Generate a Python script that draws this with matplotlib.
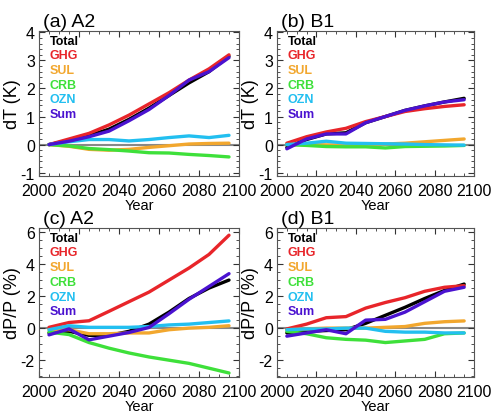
import numpy as np
import matplotlib
matplotlib.use("Agg")
import matplotlib.pyplot as plt
from matplotlib.ticker import MultipleLocator

plt.rcParams['font.family'] = ['Liberation Sans', 'DejaVu Sans']
plt.rcParams['axes.unicode_minus'] = False

years = [2005, 2015, 2025, 2035, 2045, 2055, 2065, 2075, 2085, 2095]
series_names = ["Total", "GHG", "SUL", "CRB", "OZN", "Sum"]
series_colors = ["#000000", "#e8252a", "#f2a72e", "#3ee03a", "#22bff0", "#4a12d0"]

# (a) A2 dT
a_total = [0.0, 0.15, 0.32, 0.55, 0.90, 1.30, 1.75, 2.20, 2.60, 3.15]
a_ghg   = [0.0, 0.20, 0.40, 0.70, 1.05, 1.45, 1.85, 2.30, 2.70, 3.20]
a_sul   = [0.0, -0.06, -0.17, -0.20, -0.17, -0.10, -0.04, 0.02, 0.04, 0.05]
a_crb   = [0.0, -0.05, -0.14, -0.18, -0.23, -0.29, -0.30, -0.35, -0.39, -0.44]
a_ozn   = [0.0, 0.10, 0.18, 0.18, 0.13, 0.18, 0.25, 0.31, 0.25, 0.33]
a_sum   = [0.0, 0.12, 0.28, 0.48, 0.85, 1.25, 1.75, 2.30, 2.60, 3.10]

# (b) B1 dT
b_total = [-0.10, 0.18, 0.38, 0.42, 0.78, 1.00, 1.22, 1.38, 1.52, 1.65]
b_ghg   = [0.05, 0.28, 0.45, 0.58, 0.82, 1.00, 1.18, 1.28, 1.36, 1.42]
b_sul   = [0.0, 0.0, -0.01, -0.02, -0.01, 0.02, 0.05, 0.10, 0.15, 0.20]
b_crb   = [0.0, -0.03, -0.07, -0.08, -0.08, -0.12, -0.07, -0.06, -0.05, -0.03]
b_ozn   = [0.0, 0.05, 0.12, 0.05, 0.04, 0.03, 0.02, 0.00, -0.01, -0.02]
b_sum   = [-0.15, 0.20, 0.38, 0.38, 0.78, 1.00, 1.22, 1.38, 1.52, 1.60]

# (c) A2 dP/P
c_total = [-0.30, -0.20, -0.45, -0.45, -0.20, 0.25, 1.00, 1.85, 2.50, 3.00]
c_ghg   = [0.05, 0.35, 0.46, 1.05, 1.65, 2.25, 3.00, 3.75, 4.60, 5.80]
c_sul   = [-0.10, -0.10, -0.35, -0.35, -0.30, -0.30, -0.10, 0.00, 0.05, 0.15]
c_crb   = [-0.25, -0.40, -0.90, -1.25, -1.55, -1.80, -2.00, -2.20, -2.50, -2.80]
c_ozn   = [-0.10, 0.15, 0.05, 0.05, 0.05, 0.10, 0.20, 0.25, 0.35, 0.45]
c_sum   = [-0.42, -0.05, -0.73, -0.50, -0.27, 0.04, 0.90, 1.80, 2.60, 3.40]

# (d) B1 dP/P
d_total = [-0.30, -0.20, -0.15, -0.10, 0.30, 0.80, 1.30, 1.85, 2.35, 2.75]
d_ghg   = [-0.05, 0.25, 0.65, 0.72, 1.25, 1.60, 1.90, 2.30, 2.55, 2.65]
d_sul   = [-0.10, -0.05, 0.00, 0.00, 0.00, 0.05, 0.10, 0.30, 0.40, 0.45]
d_crb   = [-0.20, -0.35, -0.60, -0.70, -0.75, -0.90, -0.80, -0.70, -0.35, -0.30]
d_ozn   = [-0.10, -0.05, -0.05, 0.00, 0.00, -0.20, -0.25, -0.25, -0.30, -0.30]
d_sum   = [-0.50, -0.30, -0.10, -0.35, 0.50, 0.55, 1.00, 1.65, 2.30, 2.55]

panels = [
    ("(a) A2", "dT (K)", [a_total, a_ghg, a_sul, a_crb, a_ozn, a_sum], (-1.12, 4.05), [-1, 0, 1, 2, 3, 4], 0.2),
    ("(b) B1", "dT (K)", [b_total, b_ghg, b_sul, b_crb, b_ozn, b_sum], (-1.12, 4.05), [-1, 0, 1, 2, 3, 4], 0.2),
    ("(c) A2", "dP/P (%)", [c_total, c_ghg, c_sul, c_crb, c_ozn, c_sum], (-3.05, 6.25), [-2, 0, 2, 4, 6], 0.5),
    ("(d) B1", "dP/P (%)", [d_total, d_ghg, d_sul, d_crb, d_ozn, d_sum], (-3.05, 6.25), [-2, 0, 2, 4, 6], 0.5),
]

fig = plt.figure(figsize=(4.91, 4.14), dpi=100)
W, H = 491, 414
boxes = [
    (39, 32, 200, 145),
    (277, 32, 197, 145),
    (39, 229, 200, 149),
    (277, 229, 197, 149),
]

for (title, ylab, data, ylim, yticks, yminor), (x0, y0, w, h) in zip(panels, boxes):
    ax = fig.add_axes([x0 / W, 1 - (y0 + h) / H, w / W, h / H])
    ax.axhline(0, color="#888888", lw=1.5, zorder=1)
    order = [4, 3, 2, 0, 1, 5]
    for i in order:
        ax.plot(years, data[i], color=series_colors[i], lw=2.4, zorder=2 + i,
                solid_capstyle="round")
    ax.set_xlim(2000, 2100)
    ax.set_ylim(*ylim)
    ax.set_xticks([2000, 2020, 2040, 2060, 2080, 2100])
    ax.set_yticks(yticks)
    ax.xaxis.set_minor_locator(MultipleLocator(5))
    ax.yaxis.set_minor_locator(MultipleLocator(yminor))
    ax.tick_params(which="both", direction="in", top=True, right=True,
                   labelsize=11.5, colors="#333333", labelcolor="black")
    ax.tick_params(axis="x", which="major", pad=5)
    ax.tick_params(axis="y", which="major", pad=3)
    ax.tick_params(which="major", length=4, width=0.8)
    ax.tick_params(which="minor", length=2, width=0.6)
    for s in ax.spines.values():
        s.set_color("#555555")
        s.set_linewidth(0.8)
    ax.set_ylabel(ylab, fontsize=13, labelpad=0)
    ax.set_xlabel("Year", fontsize=10.5, labelpad=0)
    ax.text(0.02, 1.01, title, transform=ax.transAxes, fontsize=14,
            ha="left", va="bottom")
    for k, (name, col) in enumerate(zip(series_names, series_colors)):
        ax.text(0.055, 0.975 - k * 14.7 / h, name, transform=ax.transAxes,
                color=col, fontsize=9, fontweight="bold", ha="left", va="top")

fig.savefig("out.png", dpi=100)
